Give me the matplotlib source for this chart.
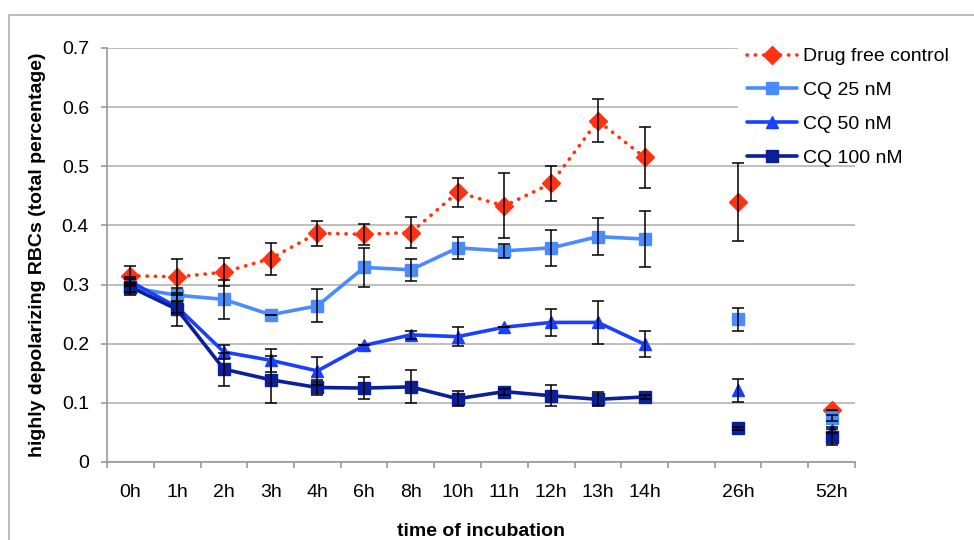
import numpy as np
import matplotlib
matplotlib.use('Agg')
import matplotlib.pyplot as plt
from matplotlib.patches import Rectangle

nan = np.nan

# time points (blank slots keep the spacing of the original category axis)
hours = ['0h', '1h', '2h', '3h', '4h', '6h', '8h', '10h', '11h', '12h',
         '13h', '14h', '', '26h', '', '52h']

control = [0.315, 0.313, 0.321, 0.344, 0.387, 0.385, 0.388, 0.456, 0.433,
           0.471, 0.577, 0.515, nan, 0.439, nan, 0.088]
control_err = [0.016, 0.030, 0.024, 0.027, 0.021, 0.018, 0.026, 0.024, 0.055,
               0.030, 0.036, 0.052, nan, 0.066, nan, 0.0]

cq25 = [0.295, 0.282, 0.275, 0.249, 0.264, 0.329, 0.325, 0.362, 0.357,
        0.362, 0.381, 0.377, nan, 0.241, nan, 0.075]
cq25_err = [0.008, 0.012, 0.033, 0.0, 0.028, 0.033, 0.019, 0.018, 0.012,
            0.030, 0.031, 0.048, nan, 0.020, nan, 0.005]

cq50 = [0.305, 0.262, 0.186, 0.172, 0.154, 0.197, 0.215, 0.212, 0.228,
        0.236, 0.236, 0.199, nan, 0.121, nan, 0.054]
cq50_err = [0.008, 0.010, 0.012, 0.019, 0.024, 0.0, 0.007, 0.016, 0.0,
            0.023, 0.036, 0.022, nan, 0.019, nan, 0.005]

cq100 = [0.296, 0.258, 0.157, 0.139, 0.126, 0.125, 0.127, 0.107, 0.119,
         0.112, 0.106, 0.110, nan, 0.057, nan, 0.042]
cq100_err = [0.014, 0.028, 0.028, 0.040, 0.012, 0.018, 0.028, 0.013, 0.005,
             0.018, 0.012, 0.003, nan, 0.003, nan, 0.013]

plt.rcParams['font.family'] = ['Liberation Sans', 'DejaVu Sans']

fig = plt.figure(figsize=(9.74, 5.4), dpi=100)
ax = fig.add_axes([107 / 974, 1 - 462 / 540, 748 / 974, 414 / 540])

x = np.arange(len(hours))
series = [
    ('Drug free control', control, control_err, '#ff3311', 'D', 9, (0, (0.1, 2.2))),
    ('CQ 25 nM', cq25, cq25_err, '#4a8cff', 's', 8.5, '-'),
    ('CQ 50 nM', cq50, cq50_err, '#1a3fff', '^', 9, '-'),
    ('CQ 100 nM', cq100, cq100_err, '#0b1f99', 's', 8, '-'),
]

handles = []
for i, (name, y, err, col, mk, ms, ls) in enumerate(series):
    line, = ax.plot(x, y, color=col, lw=2.6, ls=ls, marker=mk, ms=ms,
                    mfc=col, mec=col, dash_capstyle='round',
                    solid_capstyle='round', label=name, zorder=3 + i * 0.1)
    handles.append(line)
    ax.errorbar(x, y, yerr=err, fmt='none', ecolor='black', elinewidth=1.1,
                capsize=4, capthick=1.1, zorder=4 + i * 0.1)

ax.set_xlim(-0.5, len(hours) - 0.5)
ax.set_ylim(0, 0.7)
ax.set_yticks(np.arange(0, 0.71, 0.1))
ax.set_yticklabels(['0', '0.1', '0.2', '0.3', '0.4', '0.5', '0.6', '0.7'])
ax.set_xticks(x)
ax.set_xticklabels(hours)
ax.set_xticks(np.arange(-0.5, len(hours), 1), minor=True)

ax.grid(axis='y', color='#b3b3b3', lw=1.2, zorder=0)
ax.set_axisbelow(True)
for s in ['top', 'right']:
    ax.spines[s].set_visible(False)
for s in ['left', 'bottom']:
    ax.spines[s].set_color('#999999')
    ax.spines[s].set_linewidth(1.2)

ax.tick_params(axis='y', direction='out', length=4, width=1.2, color='#999999',
               labelsize=14, pad=9)
ax.tick_params(axis='x', which='major', length=0, labelsize=14, pad=16)
ax.tick_params(axis='x', which='minor', direction='out', length=4, width=1.2,
               color='#999999')

ax.set_ylabel('highly depolarizing RBCs (total percentage)', fontsize=14,
              fontweight='bold')
ax.yaxis.set_label_coords(-0.082, 0.5)
ax.set_xlabel('time of incubation', fontsize=14, fontweight='bold')
ax.xaxis.set_label_coords(0.5, -0.147)

# white area behind the legend (hides the top gridlines there)
fig.add_artist(Rectangle((738 / 974, 1 - 130 / 540), 0.4, 0.3,
                         transform=fig.transFigure, color='white', zorder=1))
# light outer frame
fig.add_artist(Rectangle((9 / 974, -0.2), 1.2, 1.2 - 15 / 540,
                         transform=fig.transFigure, fill=False,
                         edgecolor='#b0b0b0', lw=1.2, zorder=2))

fig.legend(handles=handles, loc='upper left',
           bbox_to_anchor=(741 / 974, 1 - 42 / 540), frameon=False,
           fontsize=14, handlelength=2.6, handletextpad=0.3,
           labelspacing=0.83, borderpad=0.3, borderaxespad=0)

fig.savefig('out.png', dpi=100)
